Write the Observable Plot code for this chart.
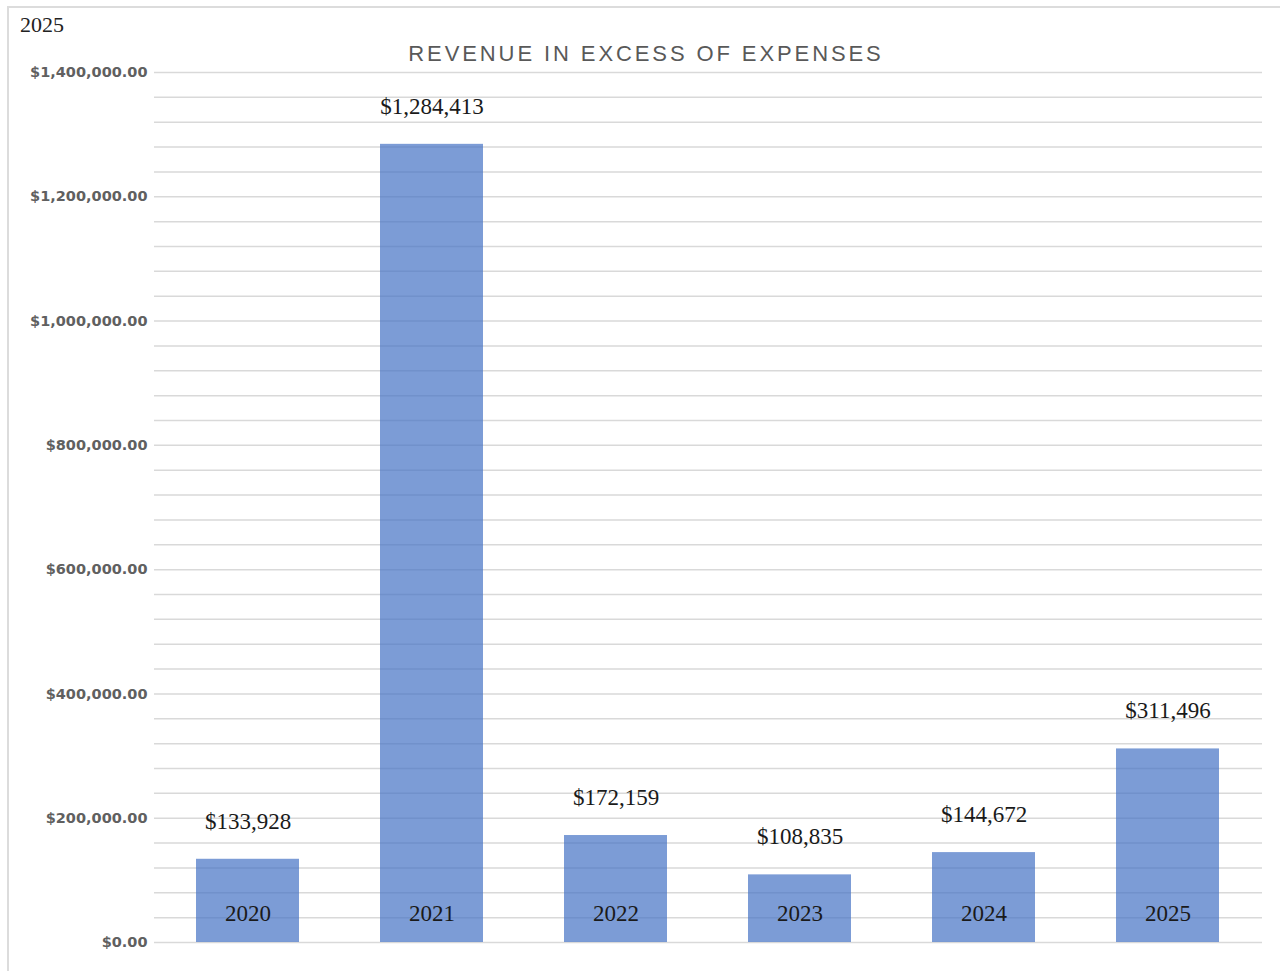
<!DOCTYPE html>
<html>
<head>
<meta charset="utf-8">
<script src="https://cdn.jsdelivr.net/npm/d3@7"></script>
<script src="https://cdn.jsdelivr.net/npm/@observablehq/plot@0.6"></script>
<style>
  html, body { margin: 0; padding: 0; background: #fff; }
  #wrap { position: relative; width: 1280px; height: 971px; overflow: hidden; }
  #frame { position: absolute; left: 7px; top: 6px; right: -10px; bottom: -10px;
           border-left: 2px solid #dcdcdc; border-top: 2px solid #dcdcdc; pointer-events: none; }
  #corner { position: absolute; left: 20px; top: 12px; font-family: "Liberation Serif", serif;
            font-size: 22px; color: #222; }
  #title { position: absolute; left: 0; width: 1292px; top: 41px; text-align: center;
           font-family: "Liberation Sans", Arial, sans-serif; font-size: 22px; letter-spacing: 2.9px;
           color: #595959; }
  #chart { position: absolute; left: 0; top: 0; }
  #chart g[aria-label="y-axis tick label"] text {
    font-family: "DejaVu Sans", sans-serif; font-size: 14.5px; font-weight: bold; fill: #606060;
  }
</style>
</head>
<body>
<div id="wrap">
  <div id="chart"></div>
  <div id="frame"></div>
  <div id="corner">2025</div>
  <div id="title">REVENUE IN EXCESS OF EXPENSES</div>
</div>
<script>
const years = ["2020", "2021", "2022", "2023", "2024", "2025"];
const values = [133928, 1284413, 172159, 108835, 144672, 311496];
const yTicks = [0, 200000, 400000, 600000, 800000, 1000000, 1200000, 1400000];

const data = years.map((year, i) => ({ year, value: values[i] }));
const fmtValue = d3.format("$,.0f");
const fmtTick = d3.format("$,.2f");
const gridLines = d3.range(0, 1400001, 40000);

const chart = Plot.plot({
  width: 1280,
  height: 971,
  marginLeft: 154,
  marginRight: 18,
  marginTop: 72,
  marginBottom: 29,
  style: { background: "transparent", overflow: "visible" },
  x: { domain: years, paddingInner: 0.44, paddingOuter: 0.22, axis: null },
  y: { domain: [0, 1400000], label: null, axis: null },
  marks: [
    Plot.gridY(gridLines, { stroke: "#d9d9d9", strokeOpacity: 1, strokeWidth: 1.5 }),
    Plot.barY(data, { x: "year", y: "value", fill: "#4472C4", fillOpacity: 0.7 }),
    Plot.text(data, {
      x: "year", y: "value", text: d => fmtValue(d.value), dy: -38,
      fontFamily: "Liberation Serif, serif", fontSize: 23, fill: "#1a1a1a", lineAnchor: "middle"
    }),
    Plot.text(data, {
      x: "year", y: () => 0, text: "year", dy: -29,
      fontFamily: "Liberation Serif, serif", fontSize: 23, fill: "#1a1a1a", lineAnchor: "middle"
    }),
    Plot.axisY(yTicks, { tickSize: 0, tickPadding: 7, tickFormat: fmtTick, label: null })
  ]
});
document.getElementById("chart").appendChild(chart);
</script>
</body>
</html>
